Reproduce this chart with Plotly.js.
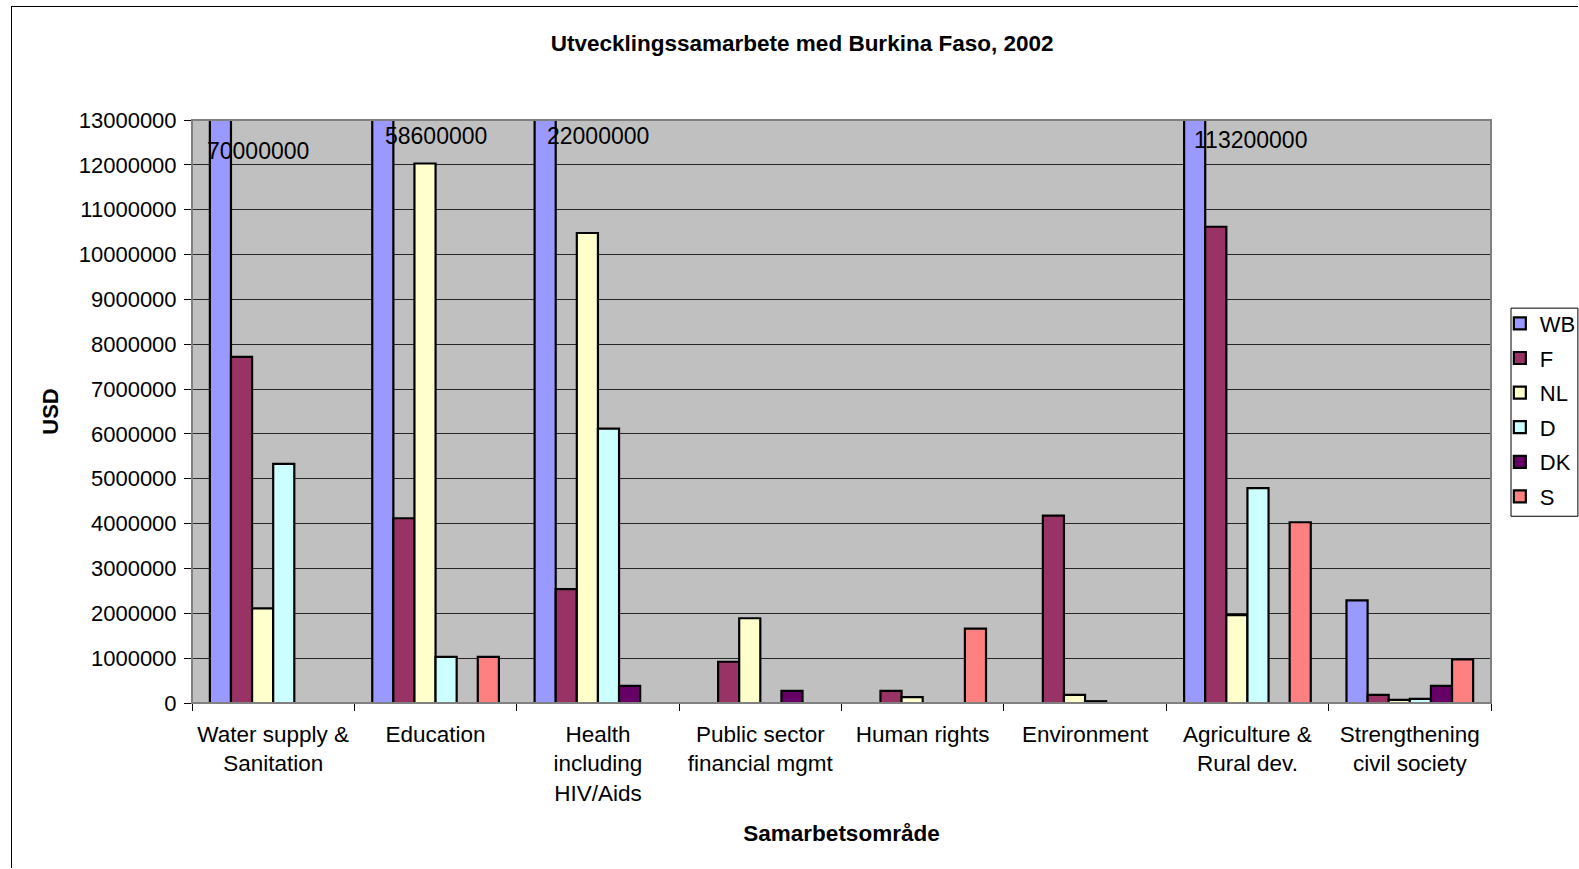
<!DOCTYPE html>
<html>
<head>
<meta charset="utf-8">
<script src="https://cdn.plot.ly/plotly-3.0.1.min.js"></script>
<style>
  html, body { margin:0; padding:0; background:#fff; overflow:hidden; width:1579px; height:869px; }
  #frame { position:absolute; left:11px; top:6px; width:1566px; height:861px; border-left:1.5px solid #000; border-top:1.5px solid #000; }
  #chart { position:absolute; left:0; top:0; width:1579px; height:869px; }
</style>
</head>
<body>
<div id="frame"></div>
<div id="chart"></div>
<script>
const categories = [
  "Water supply &<br>Sanitation",
  "Education",
  "Health<br>including<br>HIV/Aids",
  "Public sector<br>financial mgmt",
  "Human rights",
  "Environment",
  "Agriculture &<br>Rural dev.",
  "Strengthening<br>civil society"
];
const seriesNames = ["WB", "F", "NL", "D", "DK", "S"];
const WB = [70000000, 58600000, 22000000, 0, 0, 0, 113200000, 2290000];
const F  = [7720000, 4120000, 2540000, 920000, 270000, 4180000, 10620000, 180000];
const NL = [2110000, 12030000, 10480000, 1890000, 130000, 180000, 1960000, 70000];
const D  = [5330000, 1030000, 6120000, 0, 0, 40000, 4790000, 90000];
const DK = [0, 0, 380000, 270000, 0, 0, 0, 380000];
const S  = [0, 1030000, 0, 0, 1660000, 0, 4030000, 970000];
const seriesColors = ["#9999FF", "#993366", "#FFFFCC", "#CCFFFF", "#660066", "#FF8080"];
const yMax = 13000000;

const allSeries = [WB, F, NL, D, DK, S];
const font = "Liberation Sans, Arial, sans-serif";

const traces = allSeries.map((vals, i) => ({
  type: "bar",
  name: seriesNames[i],
  legendgroup: "g" + i,
  x: categories,
  y: vals,
  marker: { color: seriesColors[i], line: { color: "#000", width: 2.2 } },
  hoverinfo: "x+y+name"
}));

// labels for values exceeding the axis range
const labelPaperY = [0.9465, 0.9724, 0.9724, 0.97, 0.97, 0.97, 0.9655, 0.97];
const labelShiftX = [-15, 0, 0, 0, 0, 0, 3, 0];
const annotations = [];
WB.forEach((v, i) => {
  if (v > yMax) {
    annotations.push({
      x: categories[i], xref: "x", y: labelPaperY[i], yref: "paper",
      xanchor: "center", yanchor: "middle",
      text: String(v), showarrow: false, xshift: labelShiftX[i],
      font: { family: font, size: 23, color: "#000" }
    });
  }
});

const layout = {
  width: 1579, height: 869,
  margin: { l: 191.5, r: 88, t: 120, b: 166, autoexpand: false },
  paper_bgcolor: "rgba(0,0,0,0)",
  plot_bgcolor: "#C0C0C0",
  font: { family: font, size: 22, color: "#000" },
  title: {
    text: "<b>Utvecklingssamarbete med Burkina Faso, 2002</b>",
    font: { family: font, size: 22.5, color: "#000" },
    x: 0.508, xanchor: "center", y: 0.95, yanchor: "middle"
  },
  barmode: "group",
  bargap: 0.22,
  bargroupgap: 0,
  xaxis: {
    type: "category",
    showgrid: false,
    showline: true, linecolor: "#000", linewidth: 1,
    ticks: "outside", tickson: "boundaries", ticklen: 7, tickcolor: "#000",
    tickfont: { family: font, size: 22.5 },
    ticklabelstandoff: 11,
    title: { text: "<b>Samarbetsområde</b>", font: { family: font, size: 22.5 }, standoff: 20 },
    automargin: false,
    fixedrange: true
  },
  yaxis: {
    range: [0, yMax],
    dtick: 1000000,
    tickformat: "d",
    showgrid: true, gridcolor: "#262626", gridwidth: 1,
    zeroline: false,
    showline: true, linecolor: "#000", linewidth: 1,
    ticks: "outside", ticklen: 7, tickcolor: "#000",
    tickfont: { family: font, size: 22 },
    ticklabelstandoff: 3,
    title: { text: "<b>USD</b>", font: { family: font, size: 22 }, standoff: 14 },
    automargin: false,
    fixedrange: true
  },
  legend: {
    x: 1.0068, xanchor: "left", y: 0.6868, yanchor: "top",
    bgcolor: "rgba(0,0,0,0)", borderwidth: 0,
    font: { family: font, size: 22 },
    itemwidth: 30,
    tracegroupgap: 3
  },
  shapes: [
    {
      type: "rect", xref: "paper", yref: "paper", x0: 0, x1: 1, y0: 0, y1: 1,
      line: { color: "#808080", width: 2 }, fillcolor: "rgba(0,0,0,0)", layer: "above"
    },
    {
      type: "rect", xref: "paper", yref: "paper", x0: 1.0154, x1: 1.0669, y0: 0.3203, y1: 0.6773,
      line: { color: "#000", width: 1 }, fillcolor: "#fff", layer: "above"
    }
  ],
  annotations: annotations,
  showlegend: true
};

Plotly.newPlot("chart", traces, layout, { displayModeBar: false, staticPlot: true });
</script>
</body>
</html>
